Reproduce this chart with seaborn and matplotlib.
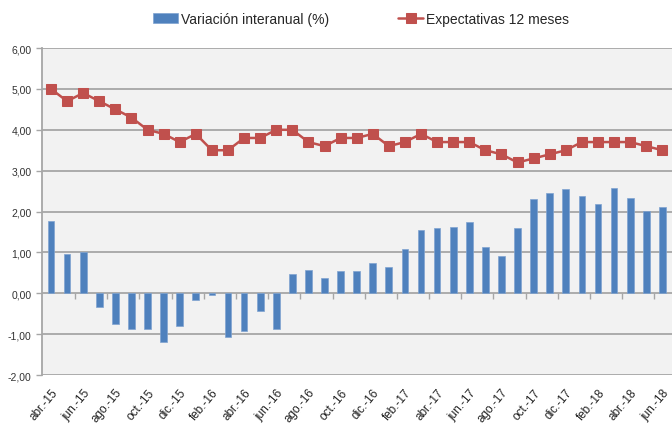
import numpy as np
import pandas as pd
import matplotlib.pyplot as plt
import seaborn as sns

meses = ["abr.-15", "may.-15", "jun.-15", "jul.-15", "ago.-15", "sep.-15", "oct.-15", "nov.-15", "dic.-15",
         "ene.-16", "feb.-16", "mar.-16", "abr.-16", "may.-16", "jun.-16", "jul.-16", "ago.-16", "sep.-16",
         "oct.-16", "nov.-16", "dic.-16", "ene.-17", "feb.-17", "mar.-17", "abr.-17", "may.-17", "jun.-17",
         "jul.-17", "ago.-17", "sep.-17", "oct.-17", "nov.-17", "dic.-17", "ene.-18", "feb.-18", "mar.-18",
         "abr.-18", "may.-18", "jun.-18"]
variacion = [1.78, 0.95, 1.00, -0.34, -0.75, -0.87, -0.87, -1.19, -0.81,
             -0.17, -0.05, -1.08, -0.93, -0.43, -0.87, 0.46, 0.57, 0.37,
             0.54, 0.54, 0.75, 0.64, 1.08, 1.55, 1.60, 1.63, 1.75,
             1.13, 0.90, 1.60, 2.31, 2.45, 2.54, 2.37, 2.19, 2.57,
             2.33, 2.01, 2.10]
expectativas = [5.0, 4.7, 4.9, 4.7, 4.5, 4.3, 4.0, 3.9, 3.7,
                3.9, 3.5, 3.5, 3.8, 3.8, 4.0, 4.0, 3.7, 3.6,
                3.8, 3.8, 3.9, 3.6, 3.7, 3.9, 3.7, 3.7, 3.7,
                3.5, 3.4, 3.2, 3.3, 3.4, 3.5, 3.7, 3.7, 3.7,
                3.7, 3.6, 3.5]
yticks = [-2, -1, 0, 1, 2, 3, 4, 5, 6]

df = pd.DataFrame({"mes": meses, "var": variacion, "exp": expectativas})
df["i"] = np.arange(len(df))

sns.set_style("white")
plt.rcParams["font.family"] = ["Liberation Sans Narrow", "Liberation Sans", "DejaVu Sans"]

fig = plt.figure(figsize=(6.72, 4.27), dpi=100)
ax = fig.add_axes([0.0625, 0.1194, 0.9375, 0.7657])
ax.set_facecolor("#F2F2F2")

sns.barplot(x="i", y="var", data=df, color="#4F81BD", width=0.42, saturation=1,
            edgecolor="#7FA3D1", linewidth=0.5, ax=ax, zorder=3, label="Variación interanual (%)")
sns.lineplot(x="i", y="exp", data=df, color="#C0504D", marker="s", markersize=6.5,
             markeredgecolor="#C0504D", linewidth=1.8, ax=ax, zorder=4, label="Expectativas 12 meses")

ax.set_ylim(-2, 6)
ax.set_xlim(-0.56, 38.6)
ax.set_yticks(yticks)
ax.set_yticklabels([f"{v:.2f}".replace(".", ",") for v in yticks], fontsize=7.5, color="#333333")
ax.yaxis.grid(True, color="#A6A6A6", linewidth=1.3, zorder=0)
ax.set_axisbelow(True)

ax.set_xticks(df["i"][::2])
ax.set_xticklabels(df["mes"][::2], rotation=50, ha="right", rotation_mode="anchor",
                   fontsize=8.5, color="#222222")
ax.tick_params(axis="x", length=0, pad=8)
ax.tick_params(axis="y", length=4, color="#A6A6A6", width=1, direction="out", left=True)
ax.set_xlabel("")
ax.set_ylabel("")

for s in ["top", "right", "bottom"]:
    ax.spines[s].set_visible(False)
ax.spines["left"].set_color("#A6A6A6")
ax.spines["left"].set_linewidth(1.3)

# ticks sobre la línea del cero, entre categorías
sec = ax.secondary_xaxis(0.25)
sec.set_xticks(np.arange(1.5, len(df), 2))
sec.set_xticklabels([])
sec.tick_params(length=4, color="#A6A6A6", width=1, direction="out")
sec.spines["bottom"].set_visible(False)

handles, labels = ax.get_legend_handles_labels()
order = [labels.index("Variación interanual (%)"), labels.index("Expectativas 12 meses")]
if ax.get_legend():
    ax.get_legend().remove()
fig.legend([handles[k] for k in order], [labels[k] for k in order], loc="upper center",
           bbox_to_anchor=(0.537, 1.0), ncol=2, frameon=False, fontsize=10,
           columnspacing=5, handlelength=1.8, handletextpad=0.2)

fig.savefig("out.png", dpi=100, facecolor="white")
